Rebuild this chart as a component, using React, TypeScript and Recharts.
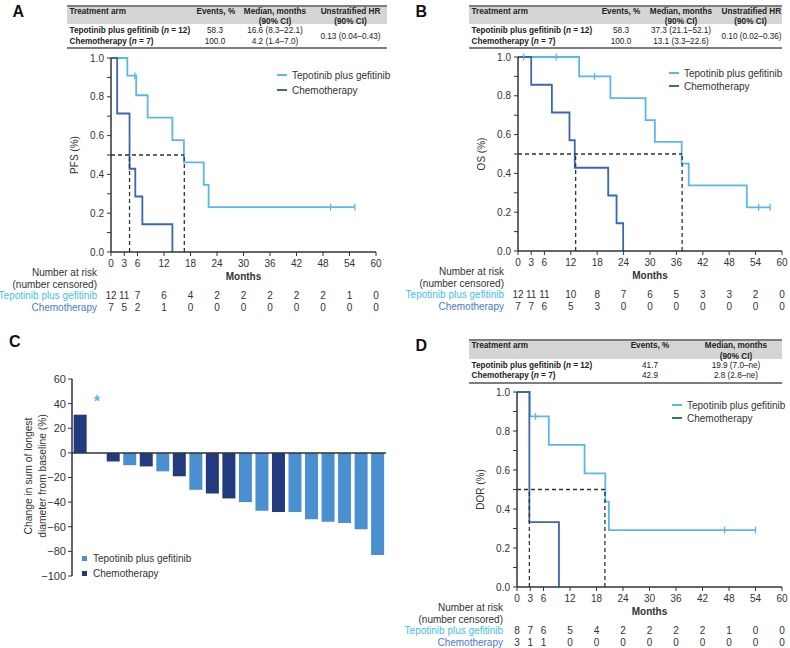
import React from 'react';
import {
  ComposedChart,
  Line,
  Bar,
  Cell,
  XAxis,
  YAxis,
  ReferenceLine,
  ReferenceDot,
  Legend,
} from 'recharts';

const FONT = '"Liberation Sans", Arial, Helvetica, sans-serif';
const INK = '#333';
const TEPO = '#5bb7ea';
const CHEMO = '#3b66b1';
const TEPO_TEXT = '#3fbff0';
const CHEMO_TEXT = '#4a79c9';
const BAR_TEPO = '#4a8fd0';
const BAR_CHEMO = '#243a7e';

const TEPO_NAME = 'Tepotinib plus gefitinib';
const CHEMO_NAME = 'Chemotherapy';

const monthTicks = [0, 3, 6, 12, 18, 24, 30, 36, 42, 48, 54, 60];
const survTicks = [0, 0.1, 0.2, 0.3, 0.4, 0.5, 0.6, 0.7, 0.8, 0.9, 1];
const changeTicks = [-100, -80, -60, -40, -20, 0, 20, 40, 60];

// A: PFS
const pfsTepoTimes = [0, 3.7, 5.7, 8.3, 13.9, 16.5, 21.0, 22.1, 55.2];
const pfsTepoSurv = [1, 0.909, 0.808, 0.693, 0.577, 0.462, 0.346, 0.231, 0.231];
const pfsTepoCensored = [5.4, 49.7, 55.2];
const pfsChemoTimes = [0, 1.4, 4.2, 5.5, 7.1, 13.9];
const pfsChemoSurv = [1, 0.714, 0.429, 0.286, 0.143, 0];
const pfsMedians = [16.6, 4.2];
const pfsTepoAtRisk = [12, 11, 7, 6, 4, 2, 2, 2, 2, 2, 1, 0];
const pfsChemoAtRisk = [7, 5, 2, 1, 0, 0, 0, 0, 0, 0, 0, 0];

// B: OS
const osTepoTimes = [0, 13.9, 21.0, 29.0, 31.1, 37.2, 38.8, 52.0, 57.3];
const osTepoSurv = [1, 0.9, 0.788, 0.675, 0.563, 0.45, 0.338, 0.225, 0.225];
const osTepoCensored = [1.3, 8.7, 17.4, 54.7, 57.3];
const osChemoTimes = [0, 3.0, 7.7, 11.7, 12.9, 20.5, 22.4, 23.9];
const osChemoSurv = [1, 0.857, 0.714, 0.571, 0.429, 0.286, 0.143, 0];
const osMedians = [37.3, 13.1];
const osTepoAtRisk = [12, 11, 11, 10, 8, 7, 6, 5, 3, 3, 2, 0];
const osChemoAtRisk = [7, 7, 6, 5, 3, 0, 0, 0, 0, 0, 0, 0];

// C: best change in tumour size (T = tepotinib plus gefitinib, C = chemotherapy)
const waterfallArm = ['C', 'T', 'C', 'T', 'C', 'T', 'C', 'T', 'C', 'C', 'T', 'T', 'C', 'T', 'T', 'T', 'T', 'T', 'T'];
const waterfallChange = [31, null, -7, -10, -11, -15, -19, -30, -33, -37, -40, -47, -48, -48, -54, -56, -57, -62, -83];

// D: DOR
const dorTepoTimes = [0, 2.9, 7.2, 15.3, 20.0, 20.8, 54.0];
const dorTepoSurv = [1, 0.875, 0.729, 0.583, 0.438, 0.292, 0.292];
const dorTepoCensored = [4.2, 47.0, 54.0];
const dorChemoTimes = [0, 2.8, 9.5];
const dorChemoSurv = [1, 0.333, 0];
const dorMedians = [19.9, 2.8];
const dorTepoAtRisk = [8, 7, 6, 5, 4, 2, 2, 2, 2, 1, 0, 0];
const dorChemoAtRisk = [3, 1, 1, 0, 0, 0, 0, 0, 0, 0, 0, 0];

type Arm = {
  name: string;
  color: string;
  textColor: string;
  times: number[];
  surv: number[];
  censored: number[];
  atRisk: number[];
};

function buildSteps(times: number[], surv: number[], censored: number[]) {
  const pts = times.map((t, i) => ({ t, s: surv[i], c: false }));
  censored.forEach((ct) => {
    let s = surv[0];
    times.forEach((t, i) => {
      if (t <= ct) s = surv[i];
    });
    pts.push({ t: ct, s, c: true });
  });
  return pts.sort((a, b) => a.t - b.t || Number(a.c) - Number(b.c));
}

const censorDot = (color: string) => (p: any) =>
  p.payload && p.payload.c ? (
    <line key={`c-${p.index}`} x1={p.cx} x2={p.cx} y1={p.cy - 3.5} y2={p.cy + 3.5} stroke={color} strokeWidth={1.3} />
  ) : (
    <g key={`n-${p.index}`} />
  );

type Plot = { left: number; top: number; right: number; bottom: number };

function KMPanel({
  left,
  top,
  width,
  height,
  plot,
  yLabel,
  arms,
  medians,
  legend,
}: {
  left: number;
  top: number;
  width: number;
  height: number;
  plot: Plot;
  yLabel: string;
  arms: Arm[];
  medians: number[];
  legend: { x: number; y: number; gap: number };
}) {
  const xHeight = height - plot.bottom;
  const medianMax = Math.max(...medians);

  const renderTick = (p: any) => {
    const i = monthTicks.indexOf(p.payload.value);
    return (
      <g key={`tick-${i}`}>
        <text x={p.x} y={p.y + 9} textAnchor="middle" fontSize={10} fill={INK}>
          {p.payload.value}
        </text>
        {arms.map((a, k) => (
          <text key={a.name} x={p.x} y={p.y + 41.1 + 11.5 * k} textAnchor="middle" fontSize={10} fill={INK}>
            {a.atRisk[i]}
          </text>
        ))}
      </g>
    );
  };

  const xLabel = () => {
    const rx = plot.left - 14;
    const b = plot.bottom;
    return (
      <g fontSize={10}>
        <text x={rx} y={b + 23.6} textAnchor="end" fill={INK}>Number at risk</text>
        <text x={rx} y={b + 35.6} textAnchor="end" fill={INK}>(number censored)</text>
        <text x={(plot.left + plot.right) / 2} y={b + 28.1} textAnchor="middle" fontWeight="bold" fill={INK}>
          Months
        </text>
        {arms.map((a, k) => (
          <text key={a.name} x={rx} y={b + 47.1 + 11.5 * k} textAnchor="end" fill={a.textColor}>
            {a.name}
          </text>
        ))}
      </g>
    );
  };

  const yLab = () => {
    const cx = plot.left - 37;
    const cy = (plot.top + plot.bottom) / 2;
    return (
      <text x={cx} y={cy} transform={`rotate(-90 ${cx} ${cy})`} textAnchor="middle" dominantBaseline="central" fontSize={10} fill={INK}>
        {yLabel}
      </text>
    );
  };

  return (
    <div style={{ position: 'absolute', left, top }}>
      <ComposedChart
        width={width}
        height={height}
        margin={{ top: plot.top, right: width - plot.right, bottom: 0, left: 0 }}
      >
        <XAxis
          type="number"
          dataKey="t"
          domain={[0, 60]}
          ticks={monthTicks}
          interval={0}
          height={xHeight}
          tickSize={4}
          tickMargin={2}
          axisLine={{ stroke: INK, strokeWidth: 1.5 }}
          tickLine={{ stroke: INK }}
          tick={renderTick}
          label={xLabel}
          allowDataOverflow
        />
        <YAxis
          type="number"
          domain={[0, 1]}
          ticks={survTicks}
          interval={0}
          width={plot.left}
          tickSize={4}
          tickMargin={3}
          axisLine={{ stroke: INK, strokeWidth: 1.5 }}
          tickLine={{ stroke: INK }}
          tick={{ fontSize: 10, fill: INK }}
          tickFormatter={(v: number) => (Math.round(v * 10) % 2 === 0 ? v.toFixed(1) : '')}
          label={yLab}
        />
        {arms.map((a) => (
          <Line
            key={a.name}
            name={a.name}
            data={buildSteps(a.times, a.surv, a.censored)}
            dataKey="s"
            type="stepAfter"
            stroke={a.color}
            strokeWidth={1.8}
            dot={censorDot(a.color)}
            activeDot={false}
            legendType="none"
            isAnimationActive={false}
          />
        ))}
        <ReferenceLine
          segment={[
            { x: 0, y: 0.5 },
            { x: medianMax, y: 0.5 },
          ]}
          stroke={INK}
          strokeWidth={1.3}
          strokeDasharray="4 3"
        />
        {medians.map((m) => (
          <ReferenceLine
            key={m}
            segment={[
              { x: m, y: 0 },
              { x: m, y: 0.5 },
            ]}
            stroke={INK}
            strokeWidth={1.3}
            strokeDasharray="4 3"
          />
        ))}
        <Legend
          layout="vertical"
          align="center"
          verticalAlign="middle"
          wrapperStyle={{ left: legend.x, top: legend.y - legend.gap / 2, width: 116 }}
          content={() => (
            <div>
              {arms.map((a) => (
                <div
                  key={a.name}
                  style={{ display: 'flex', alignItems: 'center', height: legend.gap, fontSize: 10, color: INK, whiteSpace: 'nowrap' }}
                >
                  <span style={{ display: 'inline-block', width: 10, height: 2, background: a.color, marginRight: 5 }} />
                  {a.name}
                </div>
              ))}
            </div>
          )}
        />
      </ComposedChart>
    </div>
  );
}

type Col = { w: number; align: 'left' | 'center' };

function SummaryTable({
  left,
  top,
  cols,
  header,
  rows,
  spanLast,
}: {
  left: number;
  top: number;
  cols: Col[];
  header: string[][];
  rows: React.ReactNode[][];
  spanLast?: React.ReactNode;
}) {
  const width = cols.reduce((s, c) => s + c.w, 0);
  const lefts = cols.map((_, i) => cols.slice(0, i).reduce((s, c) => s + c.w, 0));
  const cell = (ci: number, center: number, content: React.ReactNode, bold: boolean, key: string) => (
    <div
      key={key}
      style={{
        position: 'absolute',
        left: lefts[ci] + 2.5,
        width: cols[ci].w - 5,
        top: center - 5,
        height: 10,
        lineHeight: '10px',
        textAlign: cols[ci].align,
        fontWeight: bold ? 'bold' : 'normal',
        whiteSpace: 'nowrap',
      }}
    >
      {content}
    </div>
  );
  return (
    <div style={{ position: 'absolute', left, top, width, height: 45, fontSize: 8.2, color: '#222' }}>
      <div style={{ position: 'absolute', left: 0, top: 0, width, height: 2, background: '#7d7d7d' }} />
      <div style={{ position: 'absolute', left: 0, top: 2, width, height: 17.5, background: '#d5d5d5' }} />
      {header.map((lines, ci) => lines.map((ln, li) => cell(ci, 7 + li * 10.5, ln, true, `h${ci}-${li}`)))}
      {rows.map((r, ri) => r.map((c, ci) => cell(ci, 26.8 + ri * 10.4, c, ci === 0, `r${ri}-${ci}`)))}
      {spanLast !== undefined && cell(cols.length - 1, 32, spanLast, false, 'span')}
      <div style={{ position: 'absolute', left: 0, top: 42.6, width, height: 2.2, background: '#7d7d7d' }} />
    </div>
  );
}

const tepoCell = (n: number) => (
  <>
    Tepotinib plus gefitinib (<i>n</i> = {n})
  </>
);
const chemoCell = (n: number) => (
  <>
    Chemotherapy (<i>n</i> = {n})
  </>
);

function Letter({ x, y, children }: { x: number; y: number; children: string }) {
  return (
    <div style={{ position: 'absolute', left: x, top: y, fontSize: 16, lineHeight: '16px', fontWeight: 'bold', color: '#111' }}>
      {children}
    </div>
  );
}

function Waterfall() {
  const data = waterfallChange.map((v, i) => ({ id: i + 1, arm: waterfallArm[i], change: v }));
  const asterisk = data.find((d) => d.change === null);
  const plotTop = 49;
  const plotBottom = 246;
  const yLab = () => {
    const cy = (plotTop + plotBottom) / 2 - 1.5;
    return (
      <g fontSize={10.3} fill={INK}>
        {['Change in sum of longest', 'diameter from baseline (%)'].map((t, k) => {
          const cx = 28 + k * 14;
          return (
            <text key={t} x={cx} y={cy} transform={`rotate(-90 ${cx} ${cy})`} textAnchor="middle" dominantBaseline="central">
              {t}
            </text>
          );
        })}
      </g>
    );
  };
  return (
    <div style={{ position: 'absolute', left: 0, top: 330 }}>
      <ComposedChart
        width={395}
        height={318}
        data={data}
        margin={{ top: plotTop, right: 9, bottom: 318 - plotBottom, left: 0 }}
        barCategoryGap="10%"
      >
        <XAxis dataKey="id" type="category" hide height={0} />
        <YAxis
          domain={[-100, 60]}
          ticks={changeTicks}
          interval={0}
          width={72}
          tickSize={4}
          tickMargin={2}
          axisLine={{ stroke: INK, strokeWidth: 1.5 }}
          tickLine={{ stroke: INK }}
          tick={{ fontSize: 11, fill: INK }}
          tickFormatter={(v: number) => (v < 0 ? `\u2212${-v}` : `${v}`)}
          label={yLab}
        />
        <Bar dataKey="change" isAnimationActive={false} legendType="none">
          {data.map((d) => (
            <Cell key={d.id} fill={d.arm === 'T' ? BAR_TEPO : BAR_CHEMO} />
          ))}
        </Bar>
        <ReferenceLine y={0} stroke={INK} strokeWidth={1.5} />
        {asterisk && (
          <ReferenceDot
            x={asterisk.id}
            y={44}
            r={0}
            shape={(p: any) => (
              <text x={p.cx} y={p.cy + 8} textAnchor="middle" fontSize={16} fontWeight="bold" fill={TEPO}>
                *
              </text>
            )}
          />
        )}
        <Legend
          layout="vertical"
          align="center"
          verticalAlign="middle"
          wrapperStyle={{ left: 82, top: 220.5, width: 120 }}
          content={() => (
            <div>
              {[
                { name: TEPO_NAME, color: BAR_TEPO },
                { name: CHEMO_NAME, color: BAR_CHEMO },
              ].map((e) => (
                <div
                  key={e.name}
                  style={{ display: 'flex', alignItems: 'center', height: 15, fontSize: 10, color: INK, whiteSpace: 'nowrap' }}
                >
                  <span style={{ display: 'inline-block', width: 5, height: 5, background: e.color, marginRight: 6 }} />
                  {e.name}
                </div>
              ))}
            </div>
          )}
        />
      </ComposedChart>
    </div>
  );
}

export default function App() {
  const pfsArms: Arm[] = [
    { name: TEPO_NAME, color: TEPO, textColor: TEPO_TEXT, times: pfsTepoTimes, surv: pfsTepoSurv, censored: pfsTepoCensored, atRisk: pfsTepoAtRisk },
    { name: CHEMO_NAME, color: CHEMO, textColor: CHEMO_TEXT, times: pfsChemoTimes, surv: pfsChemoSurv, censored: [], atRisk: pfsChemoAtRisk },
  ];
  const osArms: Arm[] = [
    { name: TEPO_NAME, color: TEPO, textColor: TEPO_TEXT, times: osTepoTimes, surv: osTepoSurv, censored: osTepoCensored, atRisk: osTepoAtRisk },
    { name: CHEMO_NAME, color: CHEMO, textColor: CHEMO_TEXT, times: osChemoTimes, surv: osChemoSurv, censored: [], atRisk: osChemoAtRisk },
  ];
  const dorArms: Arm[] = [
    { name: TEPO_NAME, color: TEPO, textColor: TEPO_TEXT, times: dorTepoTimes, surv: dorTepoSurv, censored: dorTepoCensored, atRisk: dorTepoAtRisk },
    { name: CHEMO_NAME, color: CHEMO, textColor: CHEMO_TEXT, times: dorChemoTimes, surv: dorChemoSurv, censored: [], atRisk: dorChemoAtRisk },
  ];

  return (
    <div style={{ position: 'relative', width: 790, height: 648, background: '#fff', fontFamily: FONT, overflow: 'hidden' }}>
      <style>{'body{margin:0}'}</style>

      <Letter x={12.5} y={4}>A</Letter>
      <Letter x={415.5} y={4}>B</Letter>
      <Letter x={9} y={333.5}>C</Letter>
      <Letter x={415.5} y={338}>D</Letter>

      <SummaryTable
        left={67}
        top={4.7}
        cols={[
          { w: 127, align: 'left' },
          { w: 42, align: 'center' },
          { w: 78, align: 'center' },
          { w: 73, align: 'center' },
        ]}
        header={[['Treatment arm'], ['Events, %'], ['Median, months', '(90% CI)'], ['Unstratified HR', '(90% CI)']]}
        rows={[
          [tepoCell(12), '58.3', '16.6 (8.3–22.1)'],
          [chemoCell(7), '100.0', '4.2 (1.4–7.0)'],
        ]}
        spanLast="0.13 (0.04–0.43)"
      />
      <SummaryTable
        left={469}
        top={4.7}
        cols={[
          { w: 130, align: 'left' },
          { w: 44, align: 'center' },
          { w: 76, align: 'center' },
          { w: 63, align: 'center' },
        ]}
        header={[['Treatment arm'], ['Events, %'], ['Median, months', '(90% CI)'], ['Unstratified HR', '(90% CI)']]}
        rows={[
          [tepoCell(12), '58.3', '37.3 (21.1–52.1)'],
          [chemoCell(7), '100.0', '13.1 (3.3–22.6)'],
        ]}
        spanLast="0.10 (0.02–0.36)"
      />
      <SummaryTable
        left={469}
        top={339.3}
        cols={[
          { w: 141, align: 'left' },
          { w: 80, align: 'center' },
          { w: 92, align: 'center' },
        ]}
        header={[['Treatment arm'], ['Events, %'], ['Median, months', '(90% CI)']]}
        rows={[
          [tepoCell(12), '41.7', '19.9 (7.0–ne)'],
          [chemoCell(7), '42.9', '2.8 (2.8–ne)'],
        ]}
      />

      <KMPanel
        left={0}
        top={0}
        width={395}
        height={320}
        plot={{ left: 111, top: 58, right: 376, bottom: 252 }}
        yLabel="PFS (%)"
        arms={pfsArms}
        medians={pfsMedians}
        legend={{ x: 277, y: 75, gap: 15 }}
      />
      <KMPanel
        left={395}
        top={0}
        width={395}
        height={320}
        plot={{ left: 123, top: 57, right: 387, bottom: 251 }}
        yLabel="OS (%)"
        arms={osArms}
        medians={osMedians}
        legend={{ x: 274, y: 73, gap: 13 }}
      />
      <Waterfall />
      <KMPanel
        left={395}
        top={330}
        width={395}
        height={318}
        plot={{ left: 122, top: 62, right: 387, bottom: 257 }}
        yLabel="DOR (%)"
        arms={dorArms}
        medians={dorMedians}
        legend={{ x: 277, y: 75, gap: 13 }}
      />
    </div>
  );
}
